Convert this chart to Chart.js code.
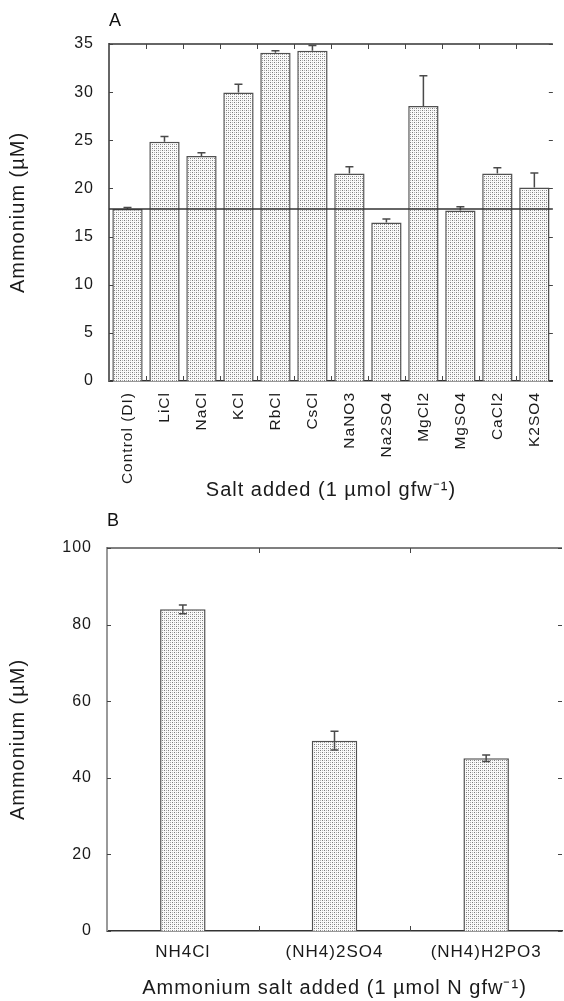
<!DOCTYPE html>
<html>
<head>
<meta charset="utf-8">
<script src="https://cdn.jsdelivr.net/npm/chart.js"></script>
<style>
  body { margin: 0; background: #fff; }
  canvas { display: block; }
</style>
</head>
<body>
<canvas id="chartA" width="564" height="510"></canvas>
<canvas id="chartB" width="564" height="491"></canvas>
<script>
// panel A - salts
const saltLabels = ["Control (DI)", "LiCl", "NaCl", "KCl", "RbCl", "CsCl", "NaNO3", "Na2SO4", "MgCl2", "MgSO4", "CaCl2", "K2SO4"];
const saltMeans = [17.86, 24.85, 23.36, 29.97, 34.1, 34.3, 21.55, 16.47, 28.56, 17.7, 21.55, 20.1];
const saltErrors = [0.15, 0.55, 0.35, 0.85, 0.2, 0.55, 0.7, 0.35, 3.15, 0.4, 0.6, 1.5];
const controlLevel = 17.86;
const ticksA = [0, 5, 10, 15, 20, 25, 30, 35];

// panel B - ammonium salts
const ammLabels = ["NH4Cl", "(NH4)2SO4", "(NH4)H2PO3"];
const ammMeans = [84.0, 49.7, 45.1];
const ammErrors = [1.15, 2.45, 0.85];
const ticksB = [0, 20, 40, 60, 80, 100];

Chart.defaults.font.family = "'Liberation Sans', Arial, sans-serif";
Chart.defaults.color = "#1a1a1a";

function stipple(ctx) {
	const c = document.createElement("canvas");
	c.width = 4;
	c.height = 4;
	const g = c.getContext("2d");
	g.fillStyle = "#fafafa";
	g.fillRect(0, 0, 4, 4);
	g.fillStyle = "#7c7c7c";
	g.fillRect(0, 0, 1, 1);
	g.fillRect(2, 2, 1, 1);
	g.fillStyle = "#b5b5b5";
	g.fillRect(2, 0, 1, 1);
	g.fillRect(0, 2, 1, 1);
	return ctx.createPattern(c, "repeat");
}

// the scanned figure's lettering is a bit spaced out
const spacingPlugin = {
	id: "spacing",
	beforeDraw(chart) {
		chart.ctx.letterSpacing = "1px";
	},
	beforeDatasetsDraw(chart) {
		chart.ctx.letterSpacing = "0px";
	},
};

// frame ticks, error bars, control line, panel letter
const framePlugin = {
	id: "frame",
	afterDatasetsDraw(chart, args, opts) {
		const ctx = chart.ctx;
		const area = chart.chartArea;
		const x = chart.scales.x;
		const y = chart.scales.y;
		const meta = chart.getDatasetMeta(0);
		ctx.save();

		// error bars
		ctx.strokeStyle = "#4a4a4a";
		ctx.lineWidth = 1.5;
		meta.data.forEach((bar, i) => {
			const v = opts.means[i];
			const e = opts.errors[i];
			const top = y.getPixelForValue(v + e);
			const bottom = opts.twoSided ? y.getPixelForValue(v - e) : y.getPixelForValue(v);
			ctx.beginPath();
			ctx.moveTo(bar.x, bottom);
			ctx.lineTo(bar.x, top);
			ctx.moveTo(bar.x - 4, top);
			ctx.lineTo(bar.x + 4, top);
			if (opts.twoSided) {
				ctx.moveTo(bar.x - 4, bottom);
				ctx.lineTo(bar.x + 4, bottom);
			}
			ctx.stroke();
		});

		// control reference line
		if (opts.refLine !== undefined) {
			const ry = y.getPixelForValue(opts.refLine);
			ctx.strokeStyle = "#333";
			ctx.lineWidth = 1.5;
			ctx.beginPath();
			ctx.moveTo(area.left, ry);
			ctx.lineTo(area.right, ry);
			ctx.stroke();
		}

		// top line
		ctx.strokeStyle = opts.topColor;
		ctx.lineWidth = 1.5;
		ctx.beginPath();
		ctx.moveTo(area.left, area.top);
		ctx.lineTo(area.right, area.top);
		ctx.stroke();

		// inward ticks
		ctx.strokeStyle = "#444";
		ctx.lineWidth = 1;
		ctx.beginPath();
		for (let i = 0; i < meta.data.length - 1; i++) {
			const bx = Math.round((x.getPixelForValue(i) + x.getPixelForValue(i + 1)) / 2) + 0.5;
			ctx.moveTo(bx, area.top);
			ctx.lineTo(bx, area.top + 5);
			ctx.moveTo(bx, area.bottom);
			ctx.lineTo(bx, area.bottom - 5);
		}
		y.ticks.forEach((t) => {
			const ty = Math.round(y.getPixelForValue(t.value)) + 0.5;
			ctx.moveTo(area.left, ty);
			ctx.lineTo(area.left + 4, ty);
			ctx.moveTo(area.right, ty);
			ctx.lineTo(area.right - 4, ty);
		});
		ctx.stroke();

		// panel letter
		ctx.fillStyle = "#111";
		ctx.font = "18px 'Liberation Sans', Arial, sans-serif";
		ctx.textBaseline = "middle";
		ctx.textAlign = "left";
		ctx.fillText(opts.letter, area.left, opts.letterY);
		ctx.restore();
	},
};

function makeChart(id, cfg) {
	const canvas = document.getElementById(id);
	const ctx = canvas.getContext("2d");
	return new Chart(ctx, {
		type: "bar",
		data: {
			labels: cfg.labels,
			datasets: [
				{
					data: cfg.means,
					backgroundColor: stipple(ctx),
					borderColor: "#505050",
					borderWidth: 1.5,
					barPercentage: cfg.barPct,
					categoryPercentage: 1,
				},
			],
		},
		options: {
			responsive: false,
			animation: false,
			layout: { padding: cfg.padding },
			plugins: {
				legend: { display: false },
				tooltip: { enabled: false },
				frame: {
					means: cfg.means,
					errors: cfg.errors,
					twoSided: cfg.twoSided,
					refLine: cfg.refLine,
					letter: cfg.letter,
					letterY: cfg.letterY,
					topColor: cfg.topColor,
				},
			},
			scales: {
				x: {
					grid: { display: false, drawTicks: false },
					border: { display: true, color: "#333", width: 1.5 },
					ticks: {
						autoSkip: false,
						minRotation: cfg.rotation,
						maxRotation: cfg.rotation,
						padding: cfg.xPad,
						font: { size: cfg.xFont },
						color: "#1a1a1a",
					},
					title: {
						display: true,
						text: cfg.xTitle,
						font: { size: 20 },
						padding: { top: 0, bottom: cfg.xTitlePad },
						color: "#1a1a1a",
					},
					afterFit(scale) {
						scale.height = cfg.xHeight;
					},
				},
				y: {
					min: cfg.ticks[0],
					max: cfg.ticks[cfg.ticks.length - 1],
					afterBuildTicks(scale) {
						scale.ticks = cfg.ticks.map((v) => ({ value: v }));
					},
					grid: { display: false, drawTicks: false },
					border: { display: true, color: cfg.leftColor, width: 2 },
					ticks: { padding: 15, font: { size: 16 }, color: "#1a1a1a" },
					title: {
						display: true,
						text: "Ammonium (µM)",
						font: { size: 20 },
						padding: { top: 6, bottom: 0 },
						color: "#1a1a1a",
					},
					afterFit(scale) {
						scale.width = cfg.yWidth;
					},
				},
			},
		},
		plugins: [spacingPlugin, framePlugin],
	});
}

makeChart("chartA", {
	labels: saltLabels,
	means: saltMeans,
	errors: saltErrors,
	ticks: ticksA,
	twoSided: false,
	refLine: controlLevel,
	letter: "A",
	letterY: 21,
	barPct: 0.82,
	rotation: 90,
	xPad: 11,
	xFont: 15.5,
	xTitle: "Salt added (1 µmol gfw⁻¹)",
	xTitlePad: 8,
	xHeight: 129,
	yWidth: 109,
	padding: { top: 44, right: 1, left: 0, bottom: 0 },
	topColor: "#333",
	leftColor: "#666",
});

makeChart("chartB", {
	labels: ammLabels,
	means: ammMeans,
	errors: ammErrors,
	ticks: ticksB,
	twoSided: true,
	letter: "B",
	letterY: 11,
	barPct: 0.3,
	rotation: 0,
	xPad: 11,
	xFont: 17,
	xTitle: "Ammonium salt added (1 µmol N gfw⁻¹)",
	xTitlePad: 1,
	xHeight: 70,
	yWidth: 107,
	padding: { top: 38, right: 2, left: 0, bottom: 0 },
	topColor: "#555",
	leftColor: "#999",
});
</script>
</body>
</html>
